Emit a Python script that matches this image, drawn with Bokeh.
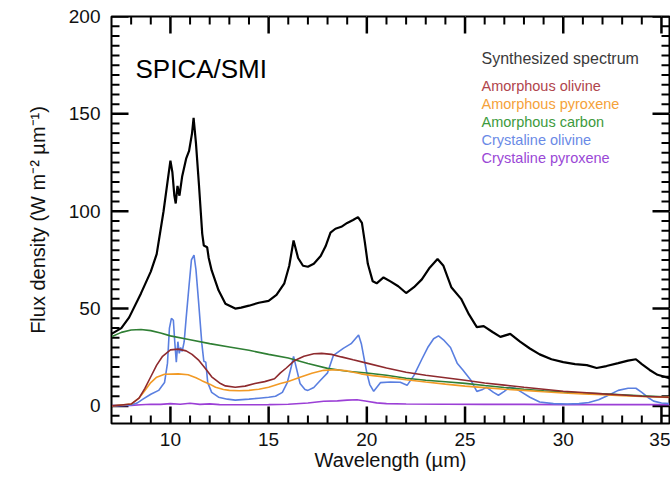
from bokeh.plotting import figure
from bokeh.models import LinearAxis, SingleIntervalTicker, Range1d, Label
from bokeh.embed import file_html
from bokeh.resources import INLINE

# ---------------- data ----------------
synth_x = [7.0, 7.5, 7.9, 8.5, 9.0, 9.3, 9.65, 9.85, 10.0, 10.1, 10.2, 10.27, 10.36, 10.46,
           10.6, 10.8, 10.95, 11.1, 11.18, 11.3, 11.45, 11.62, 11.7, 11.87, 11.95, 12.1,
           12.45, 12.8, 13.3, 13.6, 14.0, 14.5, 15.0, 15.4, 15.8, 16.05, 16.27, 16.5,
           16.75, 17.0, 17.3, 17.65, 17.9, 18.15, 18.4, 18.7, 19.0, 19.3, 19.55, 19.75,
           19.9, 20.05, 20.3, 20.5, 20.85, 21.2, 21.6, 22.0, 22.4, 22.8, 23.2, 23.6, 23.9,
           24.3, 24.8, 25.2, 25.6, 25.95, 26.4, 26.8, 27.3, 27.8, 28.3, 28.8, 29.4, 30.0,
           30.6, 31.2, 31.7, 32.2, 32.8, 33.3, 33.7, 34.0, 34.4, 34.8, 35.4]
synth_y = [37, 40, 45.5, 57.8, 69, 78, 100, 115, 126, 120, 108, 104, 113, 108,
           118, 127, 131, 140, 148, 135, 114, 88.4, 82.4, 81.5, 76, 69.6,
           59.4, 52.5, 50, 50.5, 51.5, 53, 54, 57, 63, 72, 85, 76,
           72, 71.5, 73, 77, 82, 89, 91, 92, 94, 95.5, 97, 94,
           84, 73, 64, 63, 66, 64, 61.5, 58, 61, 65, 71, 75.5, 72,
           61, 55, 47, 40.5, 41, 38, 35.5, 37, 33, 29.5, 26.5, 24, 22.5,
           21.5, 21, 19.5, 20.5, 22, 23.3, 24, 21.5, 18.5, 16, 14.3]

am_oliv_x = [7.0, 8.0, 8.4, 8.7, 9.0, 9.3, 9.6, 10.0, 10.4, 10.8, 11.1, 11.45, 11.8, 12.1,
             12.5, 12.8, 13.3, 13.8, 14.3, 14.8, 15.3, 15.6, 15.9, 16.3, 16.8, 17.3, 17.7,
             18.2, 18.7, 19.3, 20.0, 21.0, 22.0, 23.0, 24.0, 25.0, 26.0, 27.0, 28.0, 29.0,
             30.0, 31.0, 32.0, 33.0, 34.0, 35.4]
am_oliv_y = [0, 1, 4, 9, 15, 21, 25.5, 28.8, 29.2, 28.3, 26.5, 23.4, 19, 15,
             11.8, 10.3, 9.6, 10.2, 11.5, 12.5, 14, 17, 19.5, 23.2, 25.5, 26.8, 27,
             26.5, 25.2, 23.7, 22, 19.5, 17.3, 15.8, 14.5, 13.2, 11.8, 10.7, 9.6, 8.6,
             7.6, 6.9, 6.2, 5.6, 5.0, 4.5]

am_pyr_x = [7.0, 8.0, 8.4, 8.7, 9.0, 9.3, 9.7, 10.4, 10.9, 11.3, 11.6, 12.0, 12.3, 12.7,
            13.0, 13.5, 14.0, 14.5, 15.0, 15.6, 16.0, 16.6, 17.2, 17.8, 18.4, 19.0, 19.7,
            20.3, 21.0, 22.0, 23.0, 24.0, 25.0, 26.0, 27.0, 28.0, 29.0, 30.0, 31.0, 32.0,
            33.0, 34.0, 35.4]
am_pyr_y = [0, 1, 4, 8, 12, 14.8, 16.3, 16.5, 16.0, 14.5, 13, 11.2, 9.6, 8.5,
            8.0, 7.8, 8.0, 8.6, 9.6, 11.5, 12.6, 14.7, 16.8, 18.3, 18.6, 18.0, 16.5,
            15.6, 14.8, 13.5, 12.3, 11.2, 10.2, 9.4, 8.6, 8.0, 7.3, 6.7, 6.2, 5.8,
            5.3, 4.9, 4.4]

am_carb_x = [7.0, 7.5, 8.0, 8.5, 9.0, 9.5, 10.0, 11.0, 12.0, 13.0, 14.0, 15.0, 16.0, 17.0,
             18.0, 19.0, 20.0, 21.0, 22.0, 23.0, 24.0, 25.0, 26.0, 27.0, 28.0, 29.0, 30.0,
             31.0, 32.0, 33.0, 34.0, 35.4]
am_carb_y = [35.5, 37.8, 39.0, 39.3, 38.7, 37.5, 36.0, 34.0, 32.0, 30.3, 28.6, 26.5, 24.6,
             21.8, 19.3, 17.8, 16.9, 15.8, 14.2, 13.2, 12.4, 11.6, 10.5, 9.5, 8.6, 7.8,
             7.2, 6.7, 6.3, 5.8, 5.2, 4.6]

cr_oliv_x = [7.0, 8.0, 8.3, 8.6, 9.0, 9.4, 9.7, 9.85, 9.95, 10.05, 10.15, 10.22, 10.3,
             10.38, 10.45, 10.52, 10.6, 10.7, 10.8, 10.95, 11.07, 11.2, 11.3, 11.43, 11.6,
             11.7, 11.8, 11.9, 12.1, 12.45, 12.9, 13.3, 14.0, 14.5, 15.0, 15.35, 15.7,
             15.95, 16.15, 16.27, 16.4, 16.6, 16.85, 17.0, 17.3, 17.64, 18.0, 18.3, 18.8,
             19.2, 19.58, 19.72, 19.85, 20.0, 20.15, 20.35, 20.7, 21.2, 21.7, 22.05, 22.4,
             22.8, 23.1, 23.4, 23.65, 23.9, 24.26, 24.6, 24.9, 25.3, 25.6, 25.9, 26.1,
             26.45, 26.7, 27.0, 27.25, 27.55, 27.9, 28.3, 28.8, 29.5, 30.2, 30.8, 31.3,
             31.8, 32.3, 32.8, 33.3, 33.7, 34.0, 34.3, 34.6, 35.0, 35.4]
cr_oliv_y = [0, 0.5, 1.5, 3.5, 6, 8, 12, 22, 40, 45, 44, 33, 22.5,
             33, 27, 30, 28, 33, 45, 62, 75, 77.5, 70, 54, 32,
             23, 22.5, 12, 7, 4.5, 3.5, 3, 3.5, 4, 4.5, 5, 7,
             12, 20, 25.5, 20, 11.6, 8.5, 8, 9.5, 13.2, 17, 26, 29.6,
             32, 36.5, 32, 25, 17, 11, 7.5, 12, 12.3, 12.2, 10.6, 15.7,
             24, 30, 34.5, 36, 34, 30, 22, 18.3, 13.2, 7.5, 8.5, 9.6,
             7, 5.5, 7.5, 9.6, 9.1, 7, 4.5, 2, 1.2, 1, 1.2, 1.8,
             3.2, 5.5, 8, 9.1, 9.1, 7, 4.5, 2.5, 1.5, 1.2]

cr_pyr_x = [7.0, 8.0, 8.5, 9.0, 9.5, 10.0, 10.5, 11.0, 11.5, 12.0, 12.5, 13.0, 14.0, 15.0,
            16.0, 17.0, 17.8, 18.5, 19.0, 19.5, 20.0, 20.5, 21.0, 22.0, 24.0, 26.0, 28.0,
            30.0, 32.0, 34.0, 35.4]
cr_pyr_y = [0.2, 0.3, 0.6, 0.9, 0.8, 1.2, 0.9, 1.4, 0.8, 1.1, 0.7, 0.6, 0.6, 0.7,
            0.9, 1.5, 2.4, 2.6, 3.0, 3.2, 2.4, 1.6, 1.2, 1.0, 0.9, 0.8, 0.8,
            0.7, 0.7, 0.7, 0.7]

legend_names = ["Amorphous olivine", "Amorphous pyroxene", "Amorphous carbon",
                "Crystaline olivine", "Crystaline pyroxene"]
line_colors = ["#8e2a2e", "#f29a25", "#2f7f34", "#5a7fe0", "#9b3fd6"]
text_colors = ["#b0454c", "#f5a23a", "#3d9a3d", "#6a8ae6", "#9a48d6"]

# axis ranges and tick values
X0, X1 = 7.0, 35.41
Y0, Y1 = -9.0, 200.0
x_major = [10, 15, 20, 25, 30, 35]
x_minor = [v for v in range(8, 36) if v % 5 != 0]
y_major = [0, 50, 100, 150, 200]
y_minor = [v for v in range(-5, 200, 5) if v % 50 != 0]

W, H = 670, 481
BL, BR, BT, BB = 111, 1, 16, 58

p = figure(width=W, height=H, x_range=Range1d(X0, X1), y_range=Range1d(Y0, Y1),
           output_backend="svg", toolbar_location=None,
           x_axis_location=None, y_axis_location=None,
           min_border_left=BL, min_border_right=BR, min_border_top=BT, min_border_bottom=BB)
p.outline_line_color = "black"
p.outline_line_width = 2
p.xgrid.grid_line_color = "white"
p.ygrid.grid_line_color = "white"

xb = LinearAxis(ticker=SingleIntervalTicker(interval=5, num_minor_ticks=5),
                axis_label="Wavelength (µm)")
xb.major_tick_in = 0
xb.major_tick_out = 0
xb.minor_tick_in = 0
xb.minor_tick_out = 0
xb.major_label_text_font_size = "19px"
xb.major_label_text_color = "#111111"
xb.major_label_text_line_height = 0.85
xb.major_label_standoff = 9
xb.axis_label_text_font_size = "20px"
xb.axis_label_text_font_style = "normal"
xb.axis_label_text_color = "#111111"
xb.axis_label_text_line_height = 0.85
xb.axis_label_standoff = 0
p.add_layout(xb, "below")

yl = LinearAxis(ticker=SingleIntervalTicker(interval=50, num_minor_ticks=10),
                axis_label="Flux density (W m\u207b\u00b2 µm\u207b\u00b9)")
yl.major_tick_in = 0
yl.major_tick_out = 0
yl.minor_tick_in = 0
yl.minor_tick_out = 0
yl.major_label_text_font_size = "19px"
yl.major_label_text_color = "#111111"
yl.major_label_standoff = 11
yl.axis_label_text_font_size = "20px"
yl.axis_label_text_font_style = "normal"
yl.axis_label_text_color = "#111111"
yl.axis_label_standoff = 17
p.add_layout(yl, "left")

# inward ticks on all four sides (lengths given in pixels)
ux = (X1 - X0) / (W - BL - BR)
uy = (Y1 - Y0) / (H - BT - BB)
for ticks, ln, lw in [(x_major, 17, 2.5), (x_minor, 8, 2)]:
    n = len(ticks)
    p.segment(x0=ticks, y0=[Y0 + 0.5 * uy] * n, x1=ticks, y1=[Y0 + ln * uy] * n,
              line_color="black", line_width=lw)
    p.segment(x0=ticks, y0=[Y1 - 0.5 * uy] * n, x1=ticks, y1=[Y1 - ln * uy] * n,
              line_color="black", line_width=lw)
for ticks, ln, lw in [(y_major, 17, 2.5), (y_minor, 8, 2)]:
    n = len(ticks)
    p.segment(x0=[X0 + 0.5 * ux] * n, y0=ticks, x1=[X0 + ln * ux] * n, y1=ticks,
              line_color="black", line_width=lw)
    p.segment(x0=[X1 - 0.5 * ux] * n, y0=ticks, x1=[X1 - ln * ux] * n, y1=ticks,
              line_color="black", line_width=lw)

series = [(cr_pyr_x, cr_pyr_y, 4), (cr_oliv_x, cr_oliv_y, 3), (am_carb_x, am_carb_y, 2),
          (am_pyr_x, am_pyr_y, 1), (am_oliv_x, am_oliv_y, 0)]
for xs, ys, i in series:
    p.line(xs, ys, line_color=line_colors[i], line_width=1.6)
p.line(synth_x, synth_y, line_color="black", line_width=2.2)

p.add_layout(Label(x=24, y=355, x_units="screen", y_units="screen", text="SPICA/SMI",
                   text_font_size="26px", text_color="black", text_baseline="middle"))
p.add_layout(Label(x=370, y=365, x_units="screen", y_units="screen",
                   text="Synthesized spectrum", text_font_size="16px",
                   text_color="#3a3a3a", text_baseline="middle"))
for i, name in enumerate(legend_names):
    p.add_layout(Label(x=370, y=338 - 18 * i, x_units="screen", y_units="screen",
                       text=name, text_font_size="14.5px",
                       text_color=text_colors[i], text_baseline="middle"))

open("out.html", "w").write(file_html(p, INLINE))
